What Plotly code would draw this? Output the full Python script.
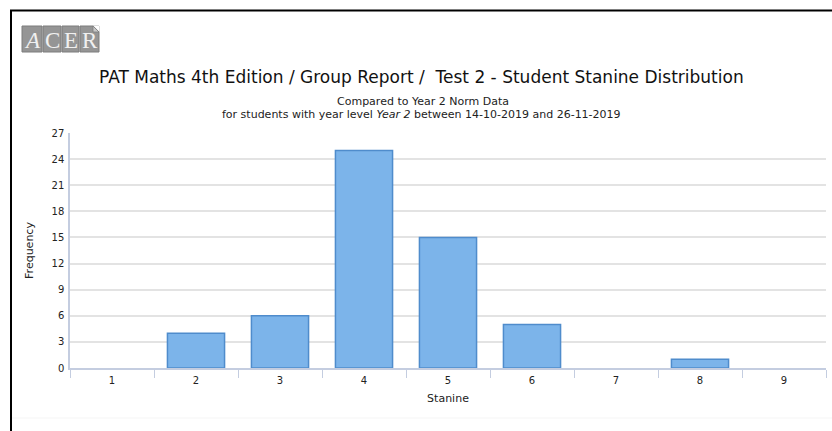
import plotly.graph_objects as go

# Stanine distribution
stanines = ["1", "2", "3", "4", "5", "6", "7", "8", "9"]
frequency = [0, 4, 6, 25, 15, 5, 0, 1, 0]
y_ticks = [0, 3, 6, 9, 12, 15, 18, 21, 24, 27]

title_text = "PAT Maths 4th Edition / Group Report /\u00a0 Test 2 - Student Stanine Distribution"
subtitle_1 = "Compared to Year 2 Norm Data"
subtitle_2 = "for students with year level <i>Year 2</i> between 14-10-2019 and 26-11-2019"

W, H = 832, 431
L, R, T, B = 70, 6, 133, 63


def px(x):
    return (x - L) / (W - L - R)


def py(y):
    return (H - B - y) / (H - T - B)


font = "DejaVu Sans"

# empty stanines get no outline so nothing is drawn for them
outline_widths = [1.5 if v > 0 else 0 for v in frequency]

fig = go.Figure(
    go.Bar(
        x=stanines,
        y=frequency,
        width=0.68,
        marker=dict(color="#7cb4ea", line=dict(color="#4f8ccc", width=outline_widths)),
        hoverinfo="x+y",
    )
)

shapes = [
    # frame lines along the top and left edges
    dict(type="line", xref="paper", yref="paper", x0=px(10), x1=px(832), y0=py(10.5), y1=py(10.5),
         line=dict(color="#000000", width=2)),
    dict(type="line", xref="paper", yref="paper", x0=px(11), x1=px(11), y0=py(10), y1=py(431),
         line=dict(color="#000000", width=2)),
    # faint footer rule
    dict(type="line", xref="paper", yref="paper", x0=px(12), x1=px(832), y0=py(418), y1=py(418),
         line=dict(color="#f5f5f5", width=1)),
]

annotations = []

# ACER logo: four grey tiles with letters
tiles = [("A", 22, 42), ("C", 43, 61), ("E", 62, 79), ("R", 80, 99)]
for letter, x0, x1 in tiles:
    shapes.append(dict(type="rect", xref="paper", yref="paper", x0=px(x0), x1=px(x1),
                       y0=py(52), y1=py(26), fillcolor="#959595",
                       line=dict(color="#7d7d7d", width=1), layer="above"))
    annotations.append(dict(text=("<i>%s</i>" % letter) if letter == "A" else letter,
                            xref="paper", yref="paper", x=px((x0 + x1) / 2), y=py(40),
                            showarrow=False, xanchor="center", yanchor="middle",
                            font=dict(family="Liberation Serif", size=23, color="#f0f0f0")))
# folded corner of the last tile
shapes.append(dict(type="path", xref="paper", yref="paper",
                   path="M %f %f L %f %f L %f %f Z" % (px(93), py(25.5), px(99.5), py(25.5), px(99.5), py(32)),
                   fillcolor="#ffffff", line=dict(width=0), layer="above"))
shapes.append(dict(type="path", xref="paper", yref="paper",
                   path="M %f %f L %f %f L %f %f Z" % (px(93), py(26), px(93), py(32), px(99), py(32)),
                   fillcolor="#c8c8c8", line=dict(color="#7d7d7d", width=0.8), layer="above"))

annotations += [
    dict(text=title_text, xref="paper", yref="paper", x=px(421), y=py(77), showarrow=False,
         xanchor="center", yanchor="middle", font=dict(family=font, size=17, color="#111111")),
    dict(text=subtitle_1, xref="paper", yref="paper", x=px(423), y=py(101), showarrow=False,
         xanchor="center", yanchor="middle", font=dict(family=font, size=11, color="#222222")),
    dict(text=subtitle_2, xref="paper", yref="paper", x=px(421), y=py(115), showarrow=False,
         xanchor="center", yanchor="middle", font=dict(family=font, size=11, color="#222222")),
]

fig.update_layout(
    width=W,
    height=H,
    margin=dict(l=L, r=R, t=T, b=B, pad=0),
    paper_bgcolor="#ffffff",
    plot_bgcolor="#ffffff",
    showlegend=False,
    shapes=shapes,
    annotations=annotations,
    xaxis=dict(
        type="category",
        tickson="boundaries",
        ticks="outside",
        ticklen=8,
        tickwidth=1,
        tickcolor="#c4cde0",
        ticklabelstandoff=2,
        showline=True,
        linecolor="#c4cde0",
        linewidth=1.5,
        showgrid=False,
        tickfont=dict(family=font, size=10, color="#222222"),
        title=dict(text="Stanine", font=dict(family=font, size=11, color="#222222"), standoff=10),
        fixedrange=True,
    ),
    yaxis=dict(
        range=[0, 27],
        tickvals=y_ticks,
        showline=True,
        linecolor="#c4cde0",
        linewidth=1.5,
        showgrid=True,
        gridcolor="#e3e3e3",
        gridwidth=1.5,
        zeroline=False,
        ticks="",
        ticklabelstandoff=2,
        tickfont=dict(family=font, size=10, color="#222222"),
        title=dict(text="Frequency", font=dict(family=font, size=11, color="#222222"), standoff=16),
        fixedrange=True,
    ),
)

fig.write_html("out.html")
